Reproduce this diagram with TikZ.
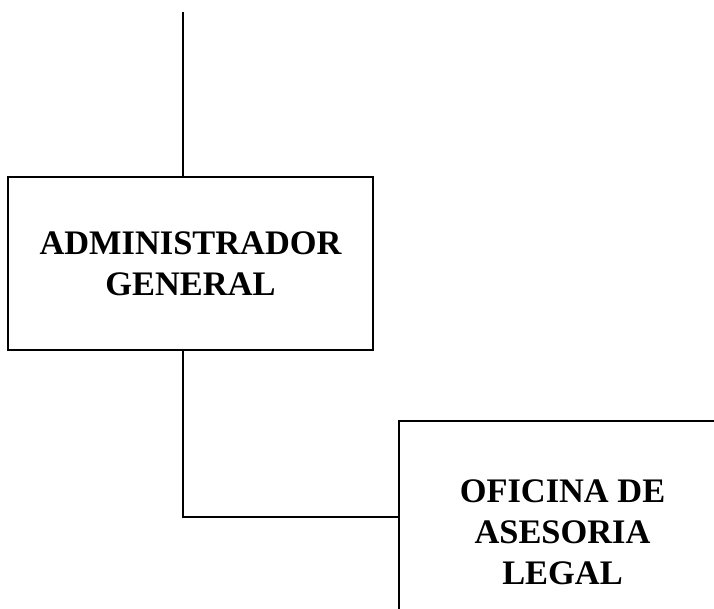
\documentclass[tikz,border=0pt]{standalone}
\usepackage{fontspec}
\setmainfont{Liberation Serif}
\begin{document}
\begin{tikzpicture}[x=0.75pt,y=-0.75pt,
  orgbox/.style={draw=black,line width=0.9pt,align=center,inner sep=0pt,
    font=\bfseries\fontsize{25.8}{30.8}\selectfont},
  conn/.style={draw=black,line width=0.9pt}]
\useasboundingbox (0,0) rectangle (714,608);
\node[orgbox,minimum width=365*0.75pt,minimum height=173*0.75pt] (b1) at (190.5,263.5) {ADMINISTRADOR\\GENERAL};
\node[orgbox,minimum width=327*0.75pt,minimum height=223*0.75pt] (b2) at (562.5,532.5) {OFICINA DE\\ASESORIA\\LEGAL};
\coordinate (top) at (183,12);
\coordinate (j) at (183,517);
\draw[conn] (top) -- (top |- b1.north);
\draw[conn] (b1.south -| j) -- (j) -- (j -| b2.west);
\end{tikzpicture}
\end{document}
